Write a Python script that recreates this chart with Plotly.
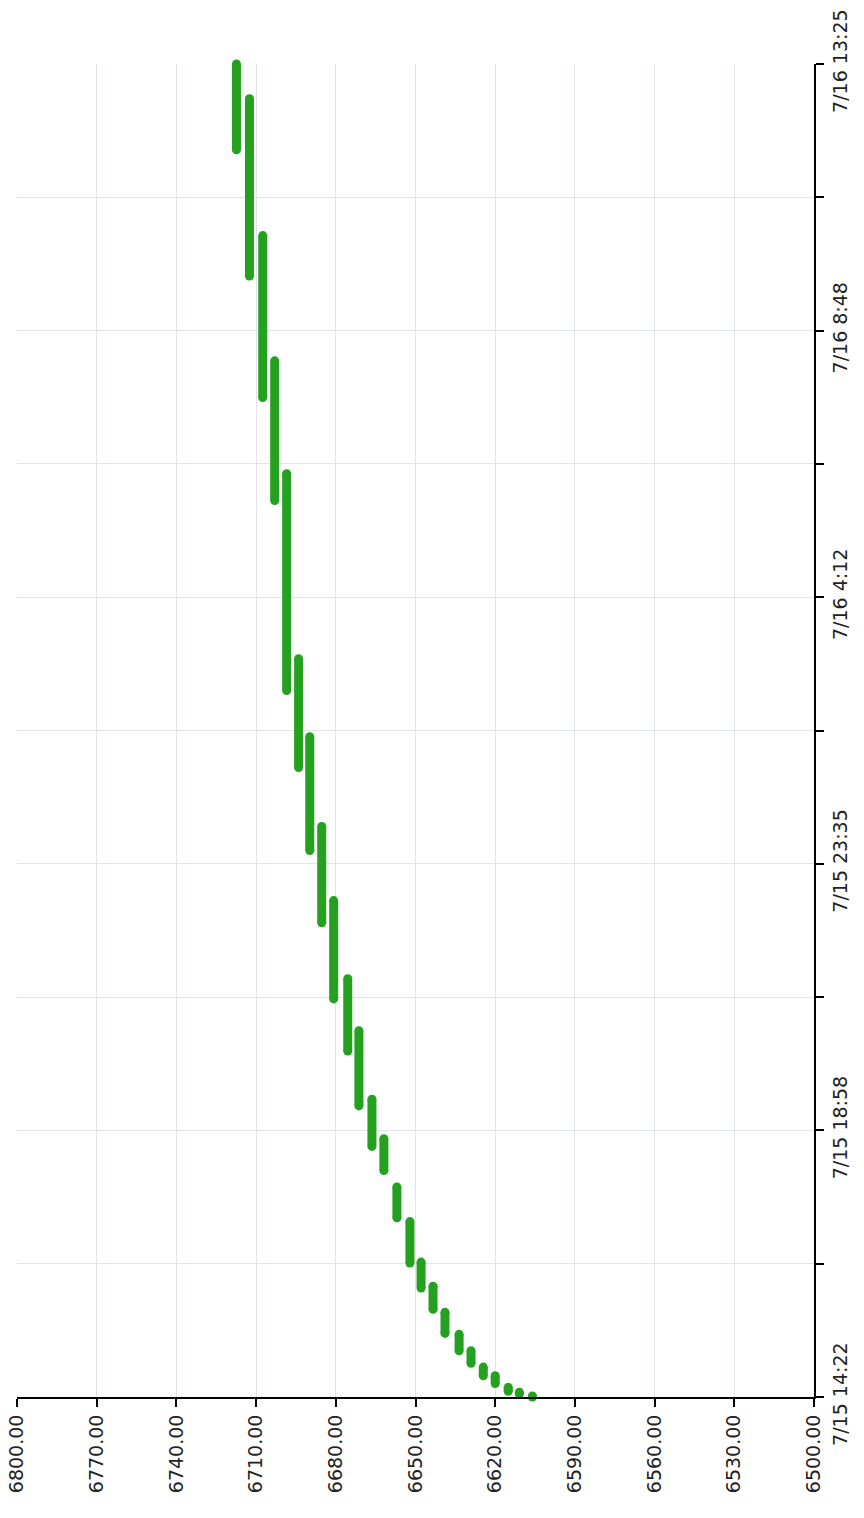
import pandas as pd
import plotly.graph_objects as go

# ---- data ----
seg_value = [6600.8, 6606.0, 6610.9, 6615.1, 6620.0, 6624.5, 6629.1, 6633.6,
             6638.9, 6643.4, 6647.9, 6652.1, 6657.0, 6661.9, 6666.4, 6671.3,
             6675.5, 6680.8, 6685.3, 6689.8, 6694.0, 6698.5, 6703.0, 6707.5,
             6712.5, 6717.4]
seg_start = ["2014-07-15 14:19", "2014-07-15 14:22", "2014-07-15 14:25", "2014-07-15 14:28",
             "2014-07-15 14:36", "2014-07-15 14:44", "2014-07-15 14:57", "2014-07-15 15:10",
             "2014-07-15 15:28", "2014-07-15 15:53", "2014-07-15 16:15", "2014-07-15 16:41",
             "2014-07-15 17:28", "2014-07-15 18:17", "2014-07-15 18:42", "2014-07-15 19:24",
             "2014-07-15 20:21", "2014-07-15 21:15", "2014-07-15 22:34", "2014-07-15 23:49",
             "2014-07-16 01:15", "2014-07-16 02:35", "2014-07-16 05:52", "2014-07-16 07:39",
             "2014-07-16 09:45", "2014-07-16 11:56"]
seg_end = ["2014-07-15 14:19", "2014-07-15 14:23", "2014-07-15 14:27", "2014-07-15 14:32",
           "2014-07-15 14:44", "2014-07-15 14:53", "2014-07-15 15:10", "2014-07-15 15:27",
           "2014-07-15 15:50", "2014-07-15 16:17", "2014-07-15 16:42", "2014-07-15 17:24",
           "2014-07-15 18:00", "2014-07-15 18:50", "2014-07-15 19:31", "2014-07-15 20:42",
           "2014-07-15 21:36", "2014-07-15 22:57", "2014-07-16 00:14", "2014-07-16 01:47",
           "2014-07-16 03:08", "2014-07-16 06:20", "2014-07-16 08:17", "2014-07-16 10:27",
           "2014-07-16 12:49", "2014-07-16 13:25"]

value_ticks = [6800, 6770, 6740, 6710, 6680, 6650, 6620, 6590, 6560, 6530, 6500]
value_tick_text = ["6800.00", "6770.00", "6740.00", "6710.00", "6680.00", "6650.00",
                   "6620.00", "6590.00", "6560.00", "6530.00", "6500.00"]
time_range = ["2014-07-15 14:22", "2014-07-16 13:25"]
time_tick_text = ["7/15 14:22", "", "7/15 18:58", "", "7/15 23:35", "",
                  "7/16 4:12", "", "7/16 8:48", "", "7/16 13:25"]

# ---- build ----
xs, ys = [], []
for v, s, e in zip(seg_value, seg_start, seg_end):
    xs += [v, v, None]
    ys += [s, e, None]

t0 = pd.Timestamp(time_range[0])
t1 = pd.Timestamp(time_range[1])
n = len(time_tick_text) - 1
time_ticks = [t0 + (t1 - t0) * k / n for k in range(n + 1)]

green = "#24a11f"
fig = go.Figure()
fig.add_trace(go.Scatter(
    x=xs, y=ys, mode="lines+markers",
    line=dict(color=green, width=9),
    marker=dict(color=green, size=9),
    cliponaxis=False, showlegend=False, hoverinfo="skip",
))

grid = "#dfe4ea"
font = dict(family="DejaVu Sans", size=19, color="#222222")
fig.update_layout(
    template="none",
    width=864, height=1518,
    margin=dict(l=17, r=50, t=64, b=121, pad=0),
    paper_bgcolor="white", plot_bgcolor="white",
    hovermode=False,
    xaxis=dict(
        range=[6800, 6500], tickmode="array", tickvals=value_ticks,
        ticktext=value_tick_text, tickangle=-90, tickfont=font,
        ticklabeloverflow="allow",
        showgrid=True, gridcolor=grid, gridwidth=1, zeroline=False,
        showline=True, linecolor="black", linewidth=2, automargin=False,
        ticks="outside", ticklen=8, tickwidth=2, tickcolor="black",
    ),
    yaxis=dict(
        type="date", side="right", range=[t0, t1], tickmode="array",
        tickvals=time_ticks, ticktext=time_tick_text, tickangle=-90,
        ticklabeloverflow="allow",
        tickfont=font, showgrid=True, gridcolor=grid, gridwidth=1,
        zeroline=False, showline=True, linecolor="black", linewidth=2,
        automargin=False,
        ticks="outside", ticklen=8, tickwidth=2, tickcolor="black",
    ),
)
fig.write_html(
    "out.html",
    config={"displayModeBar": False},
    post_script="document.body.style.margin='0';document.body.style.overflow='hidden';",
)
